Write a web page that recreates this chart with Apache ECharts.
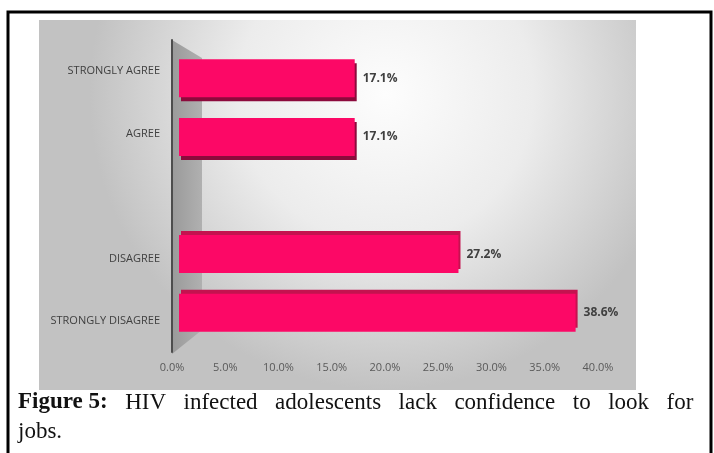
<!DOCTYPE html>
<html>
<head>
<meta charset="utf-8">
<script src="https://cdn.jsdelivr.net/npm/echarts@6/dist/echarts.min.js"></script>
<style>
  html, body { margin: 0; padding: 0; background: #fff; }
  #chart { width: 714px; height: 453px; }
</style>
</head>
<body>
<div id="chart"></div>
<script>
// chart data
var categories = ['STRONGLY AGREE', 'AGREE', '', 'DISAGREE', 'STRONGLY DISAGREE'];
var percents = [17.1, 17.1, null, 27.2, 38.6];
var xMin = 0;
var xMax = 40;
var xStep = 5;
var captionBold = 'Figure 5:';
var captionLine1 = ['HIV', 'infected', 'adolescents', 'lack', 'confidence', 'to', 'look', 'for'];
var captionLine2 = 'jobs.';

var labelFont = 'Open Sans';
var barColor = '#fc0866';

var myChart = echarts.init(document.getElementById('chart'));

// top bars show their bottom face, lower ones their top face
var barData = percents.map(function (v, i) {
  if (v === null) return null;
  var below = i < 2;
  return {
    value: v,
    itemStyle: {
      color: barColor,
      shadowColor: below ? '#8c0a3c' : '#c4124f',
      shadowBlur: 0,
      shadowOffsetX: 2,
      shadowOffsetY: below ? 4 : -4
    }
  };
});

// first caption line is justified, so the gaps are wide tokens
var captionText = '{b|' + captionBold + '}{s| }' + captionLine1.join('{s| }') + '\n' + captionLine2;

myChart.setOption({
  animation: false,
  backgroundColor: '#fff',
  title: {
    left: 18,
    top: 388,
    padding: 0,
    text: captionText,
    textStyle: {
      fontFamily: 'Liberation Serif',
      fontSize: 23,
      fontWeight: 'normal',
      color: '#111',
      lineHeight: 29,
      rich: {
        b: { fontFamily: 'Liberation Serif', fontSize: 23, fontWeight: 'bold', color: '#111', lineHeight: 29 },
        s: { fontFamily: 'Liberation Serif', fontSize: 23, width: 17.5, lineHeight: 29 }
      }
    }
  },
  graphic: [
    {
      type: 'rect', z: -3, silent: true,
      shape: { x: 8, y: 12, width: 703, height: 470 },
      style: { fill: '#fff', stroke: '#000', lineWidth: 3 }
    },
    {
      type: 'rect', z: -2, silent: true,
      shape: { x: 39, y: 20, width: 597, height: 370 },
      style: {
        fill: {
          type: 'radial', x: 0.58, y: 0.2, r: 0.8,
          colorStops: [
            { offset: 0, color: '#fdfdfd' },
            { offset: 0.5, color: '#ececec' },
            { offset: 1, color: '#c2c2c2' }
          ]
        }
      }
    },
    {
      type: 'polygon', z: -1, silent: true,
      shape: { points: [[172, 40], [202, 58], [202, 330], [172, 354]] },
      style: {
        fill: {
          type: 'linear', x: 0, y: 0, x2: 1, y2: 0,
          colorStops: [
            { offset: 0, color: '#9a9a9a' },
            { offset: 1, color: '#b0b0b0' }
          ]
        }
      }
    }
  ],
  grid: [
    { left: 172, top: 40, width: 426, height: 312, containLabel: false },
    { left: 179, top: 49, width: 411, height: 293, containLabel: false }
  ],
  xAxis: [
    {
      gridIndex: 0, type: 'value', min: xMin, max: xMax, interval: xStep,
      axisLine: { show: false }, axisTick: { show: false }, splitLine: { show: false },
      axisLabel: {
        margin: 10, color: '#595959', fontFamily: labelFont, fontSize: 11,
        formatter: function (v) { return v.toFixed(1) + '%'; }
      }
    },
    {
      gridIndex: 1, type: 'value', min: xMin, max: xMax, interval: xStep, show: false
    }
  ],
  yAxis: [
    {
      gridIndex: 0, type: 'category', data: categories, inverse: true,
      axisLine: { show: true, lineStyle: { color: '#4d4d4d', width: 2 } },
      axisTick: { show: false },
      axisLabel: { margin: 12, color: '#404040', fontFamily: labelFont, fontSize: 11 }
    },
    {
      gridIndex: 1, type: 'category', data: categories, inverse: true, show: false
    }
  ],
  series: [
    {
      type: 'bar',
      xAxisIndex: 1,
      yAxisIndex: 1,
      data: barData,
      barWidth: 38,
      label: {
        show: true,
        position: 'right',
        distance: 8,
        color: '#404040',
        fontFamily: labelFont,
        fontWeight: 'bold',
        fontSize: 12,
        formatter: function (p) { return p.value.toFixed(1) + '%'; }
      }
    }
  ]
});
</script>
</body>
</html>
